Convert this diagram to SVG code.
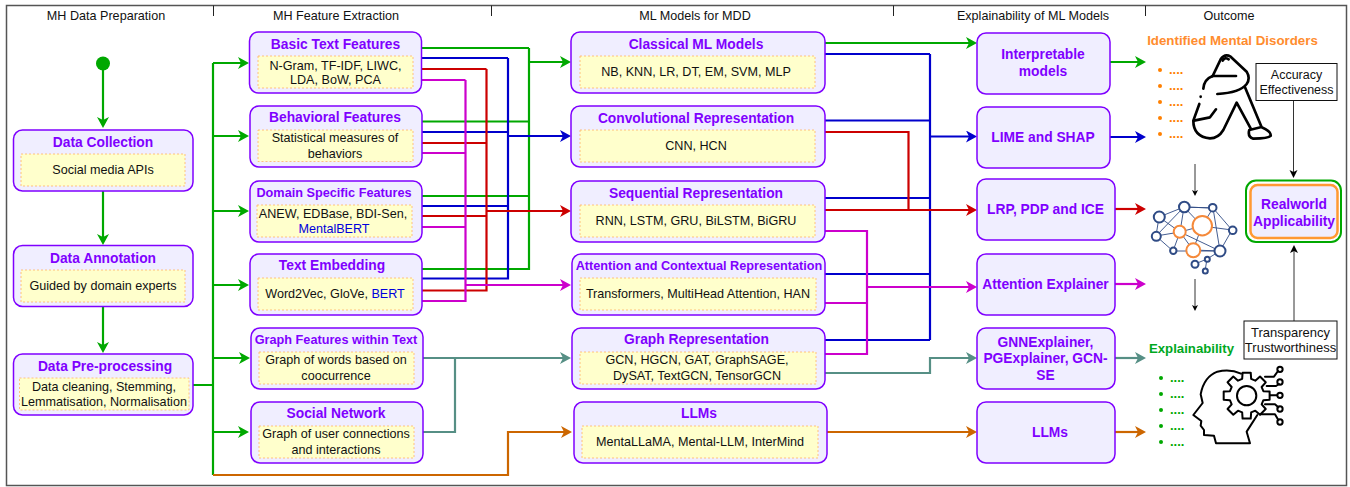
<svg xmlns="http://www.w3.org/2000/svg" width="1350" height="487" viewBox="0 0 1350 487">
<style>
text{font-family:"Liberation Sans",Arial,sans-serif;text-anchor:middle;fill:#111}
.hd{font-size:12.6px}
.t{font-size:13.8px;font-weight:bold;fill:#7f00ff}
.ts{font-size:12.7px;font-weight:bold;fill:#7f00ff}
.b{font-size:12.6px}
.blue{fill:#0000dd}
.n{fill:#f0eeff;stroke:#7f00ff;stroke-width:1.5}
.i{fill:#ffffcc;stroke:#ffb366;stroke-width:.8;stroke-dasharray:2 2}
.c{fill:none;stroke-width:2.200}
.g{stroke:#00a800}.bl{stroke:#0000cc}.r{stroke:#cc0000}.m{stroke:#cc00cc}.te{stroke:#568f85}.o{stroke:#cc6600}
.ic{fill:none;stroke:#000;stroke-width:8;stroke-linecap:round;stroke-linejoin:round}
.net{stroke:#2f4b85;stroke-width:.9;fill:none}
.nd{fill:#fff;stroke:#2f4b85;stroke-width:2}
.no{fill:#fff;stroke:#f5893a;stroke-width:2}
.dot{text-anchor:start;font-size:13px;font-weight:bold}
</style>
<defs>
<marker id="ag" markerUnits="userSpaceOnUse" markerWidth="13" markerHeight="14" refX="8" refY="6" orient="auto"><path d="M0,0L11,6L0,12L3,6z" fill="#00a800"/></marker>
<marker id="ab" markerUnits="userSpaceOnUse" markerWidth="13" markerHeight="14" refX="8" refY="6" orient="auto"><path d="M0,0L11,6L0,12L3,6z" fill="#0000cc"/></marker>
<marker id="ar" markerUnits="userSpaceOnUse" markerWidth="13" markerHeight="14" refX="8" refY="6" orient="auto"><path d="M0,0L11,6L0,12L3,6z" fill="#cc0000"/></marker>
<marker id="am" markerUnits="userSpaceOnUse" markerWidth="13" markerHeight="14" refX="8" refY="6" orient="auto"><path d="M0,0L11,6L0,12L3,6z" fill="#cc00cc"/></marker>
<marker id="at" markerUnits="userSpaceOnUse" markerWidth="13" markerHeight="14" refX="8" refY="6" orient="auto"><path d="M0,0L11,6L0,12L3,6z" fill="#568f85"/></marker>
<marker id="ao" markerUnits="userSpaceOnUse" markerWidth="13" markerHeight="14" refX="8" refY="6" orient="auto"><path d="M0,0L11,6L0,12L3,6z" fill="#cc6600"/></marker>
<marker id="ak" markerUnits="userSpaceOnUse" markerWidth="9" markerHeight="10" refX="6" refY="4" orient="auto"><path d="M0,0L8,4L0,8L2,4z" fill="#000"/></marker>
<marker id="ak2" markerUnits="userSpaceOnUse" markerWidth="7" markerHeight="7" refX="4" refY="3" orient="auto"><path d="M0,0L6,3L0,6L1.500,3z" fill="#000"/></marker>
</defs>
<rect width="1350" height="487" fill="#fff"/>
<g id="frame" fill="none" stroke="#555" stroke-width="1.5">
<rect x="6.500" y="5.500" width="1340" height="480"/>
<path d="M213.500,5.500V16M491.500,5.500V16M893.500,5.500V16M1145.500,5.500V16" stroke="#222" stroke-width="1"/>
</g>
<g id="headers">
<text class="hd" x="106" y="20">MH Data Preparation</text>
<text class="hd" x="336" y="20">MH Feature Extraction</text>
<text class="hd" x="695" y="20">ML Models for MDD</text>
<text class="hd" x="1033" y="20">Explainability of ML Models</text>
<text class="hd" x="1229" y="20">Outcome</text>
</g>
<g id="connectors">
<path class="c g" marker-end="url(#ag)" d="M103,70V125"/>
<path class="c g" marker-end="url(#ag)" d="M103,191V242"/>
<path class="c g" marker-end="url(#ag)" d="M103,307V350"/>
<path class="c g" d="M193,385H213M213,63V475"/>
<path class="c g" marker-end="url(#ag)" d="M213,63H246"/>
<path class="c g" marker-end="url(#ag)" d="M213,136H246"/>
<path class="c g" marker-end="url(#ag)" d="M213,211H246"/>
<path class="c g" marker-end="url(#ag)" d="M213,285H246"/>
<path class="c g" marker-end="url(#ag)" d="M213,358H247"/>
<path class="c g" marker-end="url(#ag)" d="M213,432H246"/>
<path class="c g" d="M421,48H529M422,121.500H529M422,196H529M422,269H529V48"/>
<path class="c g" marker-end="url(#ag)" d="M529,62H568"/>
<path class="c g" marker-end="url(#ag)" d="M825,43H974"/>
<path class="c g" marker-end="url(#ag)" d="M1110,62H1143"/>
<path class="c bl" d="M421,58H508M422,132H508M422,206H508M422,278.500H508V58"/>
<path class="c bl" marker-end="url(#ab)" d="M508,136H568"/>
<path class="c r" d="M421,69H486.500M422,143H486.500M422,216H486.500M422,290.500H486.500V69"/>
<path class="c r" marker-end="url(#ar)" d="M486.500,211H568"/>
<path class="c m" d="M421,80H465.500M422,153H465.500M422,227H465.500M422,301H465.500V80"/>
<path class="c m" marker-end="url(#am)" d="M465.500,285H568"/>
<path class="c te" marker-end="url(#at)" d="M423,358H568"/>
<path class="c te" d="M423,432H455V358"/>
<path class="c o" marker-end="url(#ao)" d="M213,475H508V432H569"/>
<path class="c bl" d="M825,54H930M825,120.500H930M825,198H930M825,274H930M825,340H930M930,54V340"/>
<path class="c bl" marker-end="url(#ab)" d="M930,136.500H974"/>
<path class="c r" d="M825,132H908.500V210"/>
<path class="c r" marker-end="url(#ar)" d="M825,210H974"/>
<path class="c m" d="M825,231H867V354H825M825,303H867"/>
<path class="c m" marker-end="url(#am)" d="M867,287H974"/>
<path class="c te" marker-end="url(#at)" d="M825,373H930V358H974"/>
<path class="c o" marker-end="url(#ao)" d="M827,432H974"/>
<path class="c bl" marker-end="url(#ab)" d="M1110,137H1143"/>
<path class="c r" marker-end="url(#ar)" d="M1115,209H1143"/>
<path class="c m" marker-end="url(#am)" d="M1115,284H1143"/>
<path class="c te" marker-end="url(#at)" d="M1115,358H1143"/>
<path class="c o" marker-end="url(#ao)" d="M1115,432H1143"/>
<g fill="none" stroke="#333" stroke-width="1">
<path marker-end="url(#ak2)" d="M1195,164V194"/>
<path marker-end="url(#ak2)" d="M1195,279V309"/>
<path marker-end="url(#ak)" d="M1293.500,100.500V176"/>
<path marker-end="url(#ak)" d="M1294,321V247"/>
</g>
</g>
<circle id="start" cx="103" cy="63.500" r="7" fill="#00a800"/>
<g id="data-collection"><rect class="n" x="13.500" y="130" width="179.500" height="61" rx="9"/><rect class="i" x="21" y="154" width="164" height="32"/><text class="t" x="103" y="147">Data Collection</text><text class="b" x="103" y="174">Social media APIs</text></g>
<g id="data-annotation"><rect class="n" x="13.500" y="245.500" width="179.500" height="61" rx="9"/><rect class="i" x="21" y="270" width="164" height="32"/><text class="t" x="103" y="263">Data Annotation</text><text class="b" x="103" y="290">Guided by domain experts</text></g>
<g id="data-preprocessing"><rect class="n" x="13.500" y="354" width="179.500" height="61" rx="9"/><rect class="i" x="19.500" y="378" width="169.500" height="32"/><text class="t" x="105" y="371">Data Pre-processing</text><text class="b" x="104" y="391">Data cleaning, Stemming,</text><text class="b" x="104" y="406">Lemmatisation, Normalisation</text></g>
<g id="basic-text"><rect class="n" x="249.500" y="32" width="172" height="61" rx="9"/><rect class="i" x="258" y="56" width="155" height="32"/><text class="t" x="335.500" y="49">Basic Text Features</text><text class="b" x="335.500" y="69.500">N-Gram, TF-IDF, LIWC,</text><text class="b" x="335.500" y="84">LDA, BoW, PCA</text></g>
<g id="behavioral"><rect class="n" x="250" y="106" width="172" height="61" rx="9"/><rect class="i" x="258" y="130" width="155" height="31.500"/><text class="t" x="335" y="122">Behavioral Features</text><text class="b" x="335" y="142">Statistical measures of</text><text class="b" x="335" y="158">behaviors</text></g>
<g id="domain"><rect class="n" x="250" y="181" width="172" height="61" rx="9"/><rect class="i" x="257" y="205" width="155" height="32"/><text class="ts" x="334" y="197">Domain Specific Features</text><text class="b" x="333" y="218">ANEW, EDBase, BDI-Sen,</text><text class="b blue" x="334" y="233">MentalBERT</text></g>
<g id="text-embedding"><rect class="n" x="250" y="254" width="172" height="61" rx="9"/><rect class="i" x="258" y="278" width="155" height="32"/><text class="t" x="332" y="270">Text Embedding</text><text class="b" x="335" y="298">Word2Vec, GloVe, <tspan class="blue">BERT</tspan></text></g>
<g id="graph-features"><rect class="n" x="251" y="328" width="172" height="61" rx="9"/><rect class="i" x="259" y="352" width="155" height="32"/><text class="ts" x="336" y="344">Graph Features within Text</text><text class="b" x="336" y="364">Graph of words based on</text><text class="b" x="336" y="380">coocurrence</text></g>
<g id="social-network"><rect class="n" x="251" y="402" width="172" height="61" rx="9"/><rect class="i" x="259" y="426" width="155" height="32"/><text class="t" x="336" y="418">Social Network</text><text class="b" x="336" y="438">Graph of user connections</text><text class="b" x="336" y="454">and interactions</text></g>
<g id="classical"><rect class="n" x="571" y="32" width="254" height="61" rx="9"/><rect class="i" x="580" y="56" width="235" height="32"/><text class="t" x="696" y="49">Classical ML Models</text><text class="b" x="696" y="76">NB, KNN, LR, DT, EM, SVM, MLP</text></g>
<g id="convolutional"><rect class="n" x="571" y="106" width="254" height="61" rx="9"/><rect class="i" x="580" y="130" width="235" height="32"/><text class="t" x="696" y="123">Convolutional Representation</text><text class="b" x="696" y="150">CNN, HCN</text></g>
<g id="sequential"><rect class="n" x="571" y="181" width="254" height="61" rx="9"/><rect class="i" x="580" y="205" width="235" height="32"/><text class="t" x="696" y="198">Sequential Representation</text><text class="b" x="696" y="225">RNN, LSTM, GRU, BiLSTM, BiGRU</text></g>
<g id="attention"><rect class="n" x="572" y="254" width="253" height="61" rx="9"/><rect class="i" x="580" y="278" width="236" height="32"/><text class="ts" x="699" y="270">Attention and Contextual Representation</text><text class="b" x="698" y="298">Transformers, MultiHead Attention, HAN</text></g>
<g id="graph-rep"><rect class="n" x="572" y="328" width="253" height="61" rx="9"/><rect class="i" x="580" y="352" width="236" height="32"/><text class="t" x="696.500" y="344">Graph Representation</text><text class="b" x="697" y="364">GCN, HGCN, GAT, GraphSAGE,</text><text class="b" x="697" y="380">DySAT, TextGCN, TensorGCN</text></g>
<g id="llms"><rect class="n" x="574" y="402" width="253" height="61" rx="9"/><rect class="i" x="582" y="426" width="236" height="32"/><text class="t" x="699" y="418">LLMs</text><text class="b" x="700" y="446">MentaLLaMA, Mental-LLM, InterMind</text></g>
<g id="interpretable"><rect class="n" x="977" y="33" width="133" height="61" rx="9"/><text class="t" x="1043" y="59">Interpretable</text><text class="t" x="1043" y="76">models</text></g>
<g id="lime"><rect class="n" x="977" y="107" width="133" height="61" rx="9"/><text class="t" x="1043" y="142">LIME and SHAP</text></g>
<g id="lrp"><rect class="n" x="977" y="179" width="138" height="61" rx="9"/><text class="t" x="1045.500" y="214">LRP, PDP and ICE</text></g>
<g id="attention-explainer"><rect class="n" x="977" y="254" width="138" height="61" rx="9"/><text class="t" x="1045.500" y="289">Attention Explainer</text></g>
<g id="gnn"><rect class="n" x="977" y="328" width="138" height="61" rx="9"/><text class="t" x="1045.500" y="346.500">GNNExplainer,</text><text class="t" x="1045.500" y="363">PGExplainer, GCN-</text><text class="t" x="1045.500" y="379.500">SE</text></g>
<g id="llms-explain"><rect class="n" x="977" y="402" width="138" height="61" rx="9"/><text class="t" x="1050" y="437">LLMs</text></g>
<g id="outcome-disorders">
<text x="1232.500" y="45" font-size="13.300" font-weight="bold" style="fill:#ff8c2e">Identified Mental Disorders</text>
<g fill="#ff8000"><circle cx="1160" cy="70" r="2"/><circle cx="1160" cy="86" r="2"/><circle cx="1160" cy="102" r="2"/><circle cx="1160" cy="118" r="2"/><circle cx="1160" cy="134" r="2"/></g>
<text class="dot" x="1169" y="74" style="fill:#ff8000">....</text><text class="dot" x="1169" y="90" style="fill:#ff8000">....</text><text class="dot" x="1169" y="106" style="fill:#ff8000">....</text><text class="dot" x="1169" y="122" style="fill:#ff8000">....</text><text class="dot" x="1169" y="138" style="fill:#ff8000">....</text>
<g transform="translate(1130,0) scale(.3333)" class="ic">
<path d="M248,228L272,178Q284,160 302,170L350,215Q362,235 350,252Q330,278 262,282"/>
<path d="M248,228H318"/>
<path d="M278,182Q284,170 296,178"/>
<path d="M220,266Q222,238 248,228"/>
<path d="M212,290V290.500"/>
<path d="M208,312L190,362Q190,410 240,415Q265,415 280,390L320,308L362,385"/>
<path d="M192,362L240,352L258,328"/>
<path d="M345,262L395,382Q425,395 422,408Q415,416 370,416Q352,410 358,390L392,382"/>
</g>
</g>
<g id="network">
<path class="net" d="M1159,217L1184,207L1213,208L1232,230L1220,251L1173,251L1156,236L1159,217M1184,207L1156,236M1184,207L1180,232L1156,236M1184,207L1202,226M1213,208L1202,226L1193,250M1213,208L1220,251M1202,226L1232,230M1180,232L1202,226M1180,232L1220,251M1180,232L1193,250M1173,251L1180,232M1159,217L1180,232M1184,207L1213,208M1220,251L1207,259L1195,264M1207,259L1205,271M1193,250L1220,251"/>
<circle class="nd" cx="1159.300" cy="217" r="5.500"/><circle class="nd" cx="1184.300" cy="207" r="5.300"/><circle class="nd" cx="1212.700" cy="207.700" r="3.800"/><circle class="nd" cx="1156.300" cy="236.300" r="4.500"/><circle class="nd" cx="1173.300" cy="250.700" r="3.200"/><circle class="nd" cx="1220" cy="251" r="5.500"/><circle class="nd" cx="1232.700" cy="230.300" r="3.800"/><circle class="nd" cx="1195" cy="264.300" r="3.500"/><circle class="nd" cx="1207.300" cy="259.300" r="2.500"/><circle class="nd" cx="1205.300" cy="271" r="2.500"/>
<circle class="no" cx="1179.700" cy="231.700" r="6"/><circle class="no" cx="1202.300" cy="225.700" r="9.700"/><circle class="no" cx="1193.300" cy="250.300" r="7"/>
</g>
<g id="accuracy"><rect x="1256" y="63.500" width="81" height="37" fill="#fff" stroke="#111" stroke-width="1"/><text x="1296.500" y="79" font-size="12.500">Accuracy</text><text x="1296.500" y="94" font-size="12.500">Effectiveness</text></g>
<g id="realworld"><rect x="1246" y="180.500" width="95" height="61.500" rx="10" fill="#fff" stroke="#00a800" stroke-width="2"/><rect x="1250.500" y="185" width="87" height="53" rx="7" fill="#f0eeff" stroke="#ff9933" stroke-width="2.500"/><text class="t" x="1294" y="208.500">Realworld</text><text class="t" x="1294" y="225.500">Applicability</text></g>
<g id="transparency"><rect x="1244" y="321" width="93" height="38" fill="#fff" stroke="#111" stroke-width="1"/><text x="1290.500" y="337" font-size="13">Transparency</text><text x="1290.500" y="352" font-size="13">Trustworthiness</text></g>
<g id="outcome-explainability">
<text x="1191.500" y="353" font-size="13.200" font-weight="bold" style="fill:#00a81e">Explainability</text>
<g fill="#00a800"><circle cx="1161" cy="378" r="2"/><circle cx="1161" cy="394" r="2"/><circle cx="1161" cy="410" r="2"/><circle cx="1161" cy="426" r="2"/><circle cx="1161" cy="442" r="2"/></g>
<text class="dot" x="1170" y="382" style="fill:#00a800">....</text><text class="dot" x="1170" y="398" style="fill:#00a800">....</text><text class="dot" x="1170" y="414" style="fill:#00a800">....</text><text class="dot" x="1170" y="430" style="fill:#00a800">....</text><text class="dot" x="1170" y="446" style="fill:#00a800">....</text>
<g transform="translate(1130,315) scale(.3333)" class="ic" style="stroke-width:6">
<path d="M333,176Q300,160 262,170Q222,185 212,238L218,264L190,300L214,318L212,332L222,345L222,360L252,362L258,385H360L350,350L382,300"/>
<g transform="translate(350,242)"><path d="M50.200,-13.500L68.900,-12.200L68.900,12.200L50.200,13.500L45,25.900L57.300,40.100L40.100,57.300L25.900,45L13.500,50.200L12.200,68.900L-12.200,68.900L-13.500,50.200L-25.900,45L-40.100,57.300L-57.300,40.100L-45,25.900L-50.200,13.500L-68.900,12.200L-68.900,-12.200L-50.200,-13.500L-45,-25.900L-57.300,-40.100L-40.100,-57.300L-25.900,-45L-13.500,-50.200L-12.200,-68.900L12.200,-68.900L13.500,-50.200L25.900,-45L40.100,-57.300L57.300,-40.100L45,-25.900z"/><circle r="29"/></g>
<path d="M405,185H432L444,168M410,213H438L447,207M420,241H441M405,268H435L445,277M390,298H435L445,315"/>
<circle cx="450" cy="163" r="8"/><circle cx="450" cy="201" r="8"/><circle cx="450" cy="241" r="8"/><circle cx="450" cy="282" r="8"/><circle cx="450" cy="321" r="8"/>
</g>
</g>
</svg>
